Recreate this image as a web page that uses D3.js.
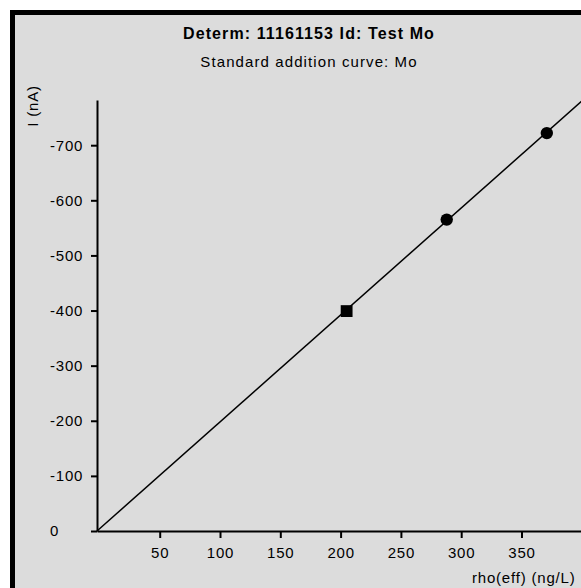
<!DOCTYPE html>
<html lang="en">
<meta charset="utf-8">
<style>
body {
  margin: 0;
  background: #fff;
  font-family: 'Liberation Sans', Arial, sans-serif;
}
.axis .domain, .axis line {
  stroke: #000;
  stroke-width: 2px;
}
.axis text {
  font-size: 15px;
  letter-spacing: 0.8px;
  fill: #000;
}
</style>
<body>
<div id="chart"></div>
<script src="https://d3js.org/d3.v7.min.js"></script>
<script>

// standard addition data
var addedConc = [205, 288, 371];      // rho(eff) ng/L
var current   = [-399, -565, -722];   // I (nA)
var pointType = ["square", "circle", "circle"];

// fitted line end points
var fitX = [-2, 401];
var fitY = [0, -782];

var xTicks = [50, 100, 150, 200, 250, 300, 350];
var yTicks = [0, -100, -200, -300, -400, -500, -600, -700];

var width = 581,
    height = 588;

var svg = d3.select("#chart").append("svg")
    .attr("width", width)
    .attr("height", height);

// grey panel with heavy black frame
svg.append("rect")
    .attr("x", 12.5)
    .attr("y", 12.5)
    .attr("width", 640)
    .attr("height", 640)
    .style("fill", "#dcdcdc")
    .style("stroke", "#000")
    .style("stroke-width", 5);

var x = d3.scaleLinear()
    .domain([fitX[0], fitX[1]])
    .range([97, 583]);

var y = d3.scaleLinear()
    .domain([0, -782])
    .range([531, 100]);

// plain hyphen minus like the original, not d3's unicode minus
var fmt = function(d) { return String(d); };

// titles
svg.append("text")
    .attr("x", 309)
    .attr("y", 39)
    .attr("text-anchor", "middle")
    .style("font-size", "16px")
    .style("font-weight", "bold")
    .style("letter-spacing", "1.1px")
    .text("Determ: 11161153 Id: Test Mo");

svg.append("text")
    .attr("x", 309)
    .attr("y", 67)
    .attr("text-anchor", "middle")
    .style("font-size", "15px")
    .style("letter-spacing", "1.1px")
    .text("Standard addition curve: Mo");

// x axis
svg.append("g")
    .attr("class", "axis")
    .attr("transform", "translate(0," + y(0) + ")")
    .call(d3.axisBottom(x).tickValues(xTicks).tickFormat(fmt)
      .tickSize(7).tickSizeOuter(0).tickPadding(9));

// y axis, labels flush left
var yAxis = svg.append("g")
    .attr("class", "axis")
    .attr("transform", "translate(" + x(fitX[0]) + ",0)")
    .call(d3.axisLeft(y).tickValues(yTicks).tickFormat(fmt)
      .tickSize(6).tickSizeOuter(0));
yAxis.selectAll(".tick text")
    .attr("x", -47)
    .attr("text-anchor", "start");

// axis titles
svg.append("text")
    .attr("transform", "translate(38,106) rotate(-90)")
    .attr("text-anchor", "middle")
    .style("font-size", "15px")
    .style("letter-spacing", "0.8px")
    .text("I (nA)");

svg.append("text")
    .attr("x", 472)
    .attr("y", 583)
    .style("font-size", "15px")
    .style("letter-spacing", "0.8px")
    .text("rho(eff) (ng/L)");

// regression line
var line = d3.line()
    .x(function(d) { return x(d[0]); })
    .y(function(d) { return y(d[1]); });

svg.append("path")
    .datum(d3.zip(fitX, fitY))
    .attr("d", line)
    .style("fill", "none")
    .style("stroke", "#000")
    .style("stroke-width", 1.5);

// points
var pts = d3.range(addedConc.length).map(function(i) {
  return {x: addedConc[i], y: current[i], type: pointType[i]};
});

svg.selectAll(".pt")
    .data(pts)
  .enter().append("path")
    .attr("class", "pt")
    .attr("transform", function(d) { return "translate(" + x(d.x) + "," + y(d.y) + ")"; })
    .attr("d", function(d) {
      var sym = d.type == "square" ? d3.symbolSquare : d3.symbolCircle;
      return d3.symbol().type(sym).size(d.type == "square" ? 140 : 120)();
    })
    .style("fill", "#000");

</script>
</body>
</html>
